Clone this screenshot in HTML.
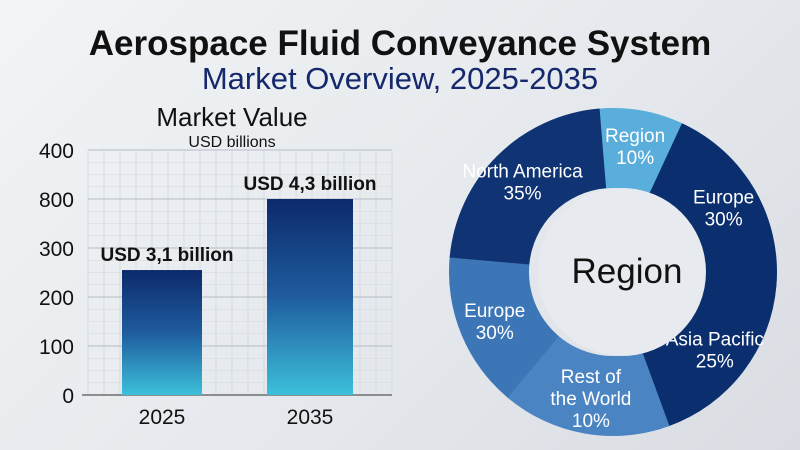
<!DOCTYPE html>
<html><head><meta charset="utf-8">
<style>
html,body{margin:0;padding:0}
body{width:800px;height:450px;overflow:hidden;background:linear-gradient(135deg,#f2f4f6 0%,#e4e8ec 60%,#d9dde3 100%);font-family:"Liberation Sans",sans-serif;}
svg{position:absolute;left:0;top:0}
</style></head>
<body>
<svg width="800" height="450">
<defs>
<linearGradient id="barg" x1="0" y1="0" x2="0" y2="1">
<stop offset="0" stop-color="#0c2a6b"/><stop offset="0.5" stop-color="#1f5c9e"/><stop offset="1" stop-color="#3cc0da"/>
</linearGradient>
</defs>
<text x="400" y="55" text-anchor="middle" font-size="35" font-weight="bold" fill="#111">Aerospace Fluid Conveyance System</text>
<text x="400" y="89" text-anchor="middle" font-size="31" fill="#14286b">Market Overview, 2025-2035</text>
<text x="232" y="126" text-anchor="middle" font-size="26" fill="#111">Market Value</text>
<text x="232" y="147" text-anchor="middle" font-size="16" fill="#111">USD billions</text>
<g id="bars"></g>
<g id="donut"></g>
<text x="627" y="283" text-anchor="middle" font-size="35" fill="#111">Region</text>
</svg>
<script>
const categories=["2025","2035"];
const values=[255,400];
const valueLabels=["USD 3,1 billion","USD 4,3 billion"];
const tickValues=[0,100,200,300,400,500];
const tickLabels=["0","100","200","300","800","400"];
const sliceLabels=[["Region","10%"],["Europe","30%"],["Asia Pacific","25%"],["Rest of","the World","10%"],["Europe","30%"],["North America","35%"]];
const sliceShares=[8.3,19.4,18.1,16.7,15.3,22.2];
const sliceStart=-5;
const NS="http://www.w3.org/2000/svg";
function mk(t,a,p){const e=document.createElementNS(NS,t);for(const k in a)e.setAttribute(k,a[k]);p.appendChild(e);return e;}
const bars=document.getElementById('bars');
const x0=88,x1=392,yBase=395,yTop=150;
function y(v){return yBase-(v/500)*(yBase-yTop);}
for(let gx=x0;gx<=x1;gx+=16){const l=mk('line',{x1:gx,x2:gx,y1:yTop,y2:yBase,stroke:'#cfd4db','stroke-width':0.7},bars);}
for(let v=0;v<=500;v+=25){const l=mk('line',{x1:x0,x2:x1,y1:y(v),y2:y(v),stroke:v%100===0?'#b5bcc6':'#d3d8de','stroke-width':v%100===0?1:0.6},bars);}
tickValues.forEach((v,i)=>{const t=mk('text',{x:74,y:y(v)+8,'text-anchor':'end','font-size':21,fill:'#111'},bars);t.textContent=tickLabels[i];});
const ax=mk('line',{x1:82,x2:x1,y1:yBase,y2:yBase,stroke:'#555','stroke-width':1.2},bars);

const bx=[[122,80],[267,86]];
categories.forEach((c,i)=>{
 const r=mk('rect',{x:bx[i][0],y:y(values[i]),width:bx[i][1],height:yBase-y(values[i]),fill:'url(#barg)'},bars);
 
 const cx=bx[i][0]+bx[i][1]/2;
 const t=mk('text',{x:cx,y:424,'text-anchor':'middle','font-size':21,fill:'#111'},bars);t.textContent=c;
 
 const lb=mk('text',{x:cx+(i?0:5),y:y(values[i])-9,'text-anchor':'middle','font-size':19,'font-weight':'bold',fill:'#111'},bars);lb.textContent=valueLabels[i];
 
});
const dg=document.getElementById('donut');
const cx=613,cy=272,R=164,r0=84;
const colors=['#5aaedb','#0b2e6e','#0b2e6e','#4a84c2','#3d76b6','#0f3373'];
const total=sliceShares.reduce((a,b)=>a+b,0);
let ang=sliceStart;
function pt(a,rr){const t=(a-90)*Math.PI/180;return [cx+rr*Math.cos(t),cy+rr*Math.sin(t)];}
sliceShares.forEach((s,i)=>{
 const sweep=s/total*360,a1=ang,a2=ang+sweep+0.3,lg=sweep>180?1:0;
 const p1=pt(a1,R),p2=pt(a2,R),p3=pt(a2,r0),p4=pt(a1,r0);
 const p=mk('path',{d:`M${p1}A${R},${R} 0 ${lg} 1 ${p2}L${p3}A${r0},${r0} 0 ${lg} 0 ${p4}Z`,fill:colors[i]},dg);
 
 ang=ang+sweep;
});
ang=sliceStart;
sliceShares.forEach((s,i)=>{
 const sweep=s/total*360,m=ang+sweep/2,lp=pt(m,(R+r0)/2+4),lines=sliceLabels[i];
 lines.forEach((ln,j)=>{const t=mk('text',{x:lp[0],y:lp[1]+(j-(lines.length-1)/2)*22+7,'text-anchor':'middle','font-size':19,fill:'#fff'},dg);t.textContent=ln;
  });
 ang+=sweep;
});
const hole=mk('circle',{cx:cx+9,cy:cy,r:r0,fill:'#e7eaee'},dg);

</script>
</body></html>
